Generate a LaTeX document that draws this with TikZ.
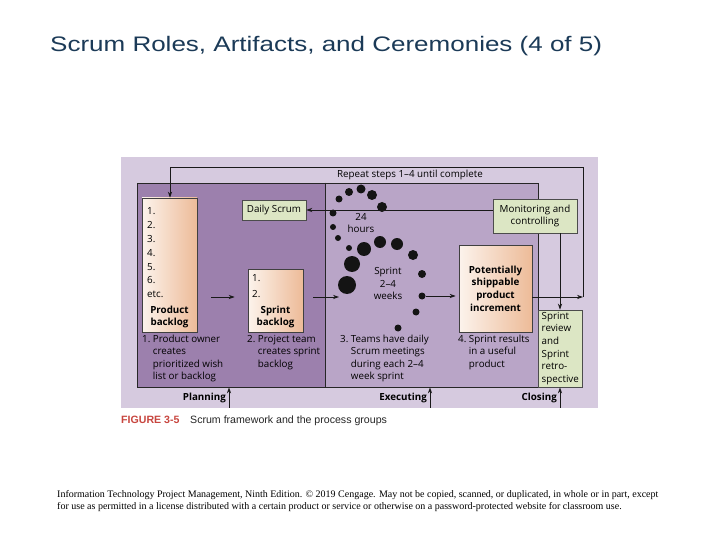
\documentclass[tikz,border=0pt]{standalone}
\usepackage{fontspec}
\setmainfont{Liberation Sans}
\newfontfamily\dfont{Open Sans}
\newfontfamily\serifft{Liberation Serif}
\usetikzlibrary{arrows.meta,calc}
\definecolor{outerlav}{HTML}{D6CADF}
\definecolor{leftzone}{HTML}{9C80AD}
\definecolor{rightzone}{HTML}{B9A5C7}
\definecolor{greenbox}{HTML}{DCE6C4}
\definecolor{peachL}{HTML}{FCF3EC}
\definecolor{peachR}{HTML}{EDBB98}
\definecolor{titleblue}{HTML}{1B3A57}
\definecolor{figred}{HTML}{C8463F}
\tikzset{
  txt/.style={font=\dfont\fontsize{9.8}{12.6}\selectfont, inner sep=0pt, text=black},
  btxt/.style={font=\dfont\bfseries\fontsize{9.8}{12.6}\selectfont, inner sep=0pt, text=black},
  bkbox/.style={draw=black!75, line width=0.6pt, left color=peachL, right color=peachR, inner sep=0pt},
  grbox/.style={draw=black!70, line width=0.6pt, fill=greenbox, inner sep=0pt},
  arr/.style={-{Stealth[length=6pt,width=4.2pt]}, line width=0.9pt, black!90},
  dot/.style={circle, fill=black!92, inner sep=0pt, minimum size=#1},
}
\begin{document}
\begin{tikzpicture}[x=1pt,y=-1pt]
\useasboundingbox (0,0) rectangle (720,540);
\fill[white] (0,0) rectangle (720,540);
% title
\node[anchor=base west, inner sep=0pt, text=titleblue] (title) at (50,52)
  {\scalebox{1.238}[1]{\fontsize{21}{25}\selectfont Scrum Roles, Artifacts, and Ceremonies (4 of 5)}};
% figure background
\node[fill=outerlav, minimum width=477pt, minimum height=251pt, inner sep=0pt] (fig) at (359.5,282.5) {};
% zones
\fill[leftzone] (137,183) rectangle (325,387);
\fill[rightzone] (325,183) rectangle (538,387);
\node[draw=black!85, line width=0.8pt, minimum width=401pt, minimum height=204pt, inner sep=0pt] (inner) at (337.5,285) {};
\draw[black!85, line width=0.8pt] (inner.north -| 325,0) -- (inner.south -| 325,0);
% boxes
\node[bkbox, minimum width=55pt, minimum height=134pt] (pb) at (169.5,265) {};
\node[bkbox, minimum width=55pt, minimum height=63pt] (sb) at (275.5,300.5) {};
\node[bkbox, minimum width=73pt, minimum height=87pt] (psi) at (495.5,288.5) {};
\node[grbox, minimum width=64pt, minimum height=20pt] (ds) at (274,210) {};
\node[grbox, minimum width=84pt, minimum height=34pt] (mc) at (535,216) {};
\node[grbox, minimum width=44pt, minimum height=77pt] (sr) at (560,348.5) {};
% box texts
\foreach \t [count=\i] in {1.,2.,3.,4.,5.,6.,etc.}
  \node[txt, anchor=base west] at (147,201+13.8*\i) {\t};
\node[btxt, align=center] at (169.5,317) {Product\\backlog};
\node[txt, anchor=base west] at (252,281) {1.};
\node[txt, anchor=base west] at (252,297.5) {2.};
\node[btxt, align=center] at (275.5,317) {Sprint\\backlog};
\node[txt] at (ds) {Daily Scrum};
\node[txt, align=center] at (mc) {Monitoring and\\controlling};
\node[btxt, align=center] at (psi) {Potentially\\shippable\\product\\increment};
\node[txt, align=left, anchor=north west] at (541.5,312) {\fontsize{9.8}{12.2}\selectfont Sprint\\review\\and\\Sprint\\retro-\\spective};
% captions
\node[txt, anchor=north west] at (142,333) {\begin{tabular}{@{}l@{\ }l@{}}1.&Product owner\\&creates\\&prioritized wish\\&list or backlog\end{tabular}};
\node[txt, anchor=north west] at (247,333) {\begin{tabular}{@{}l@{\ }l@{}}2.&Project team\\&creates sprint\\&backlog\end{tabular}};
\node[txt, anchor=north west] at (340,333) {\begin{tabular}{@{}l@{\ }l@{}}3.&Teams have daily\\&Scrum meetings\\&during each 2–4\\&week sprint\end{tabular}};
\node[txt, anchor=north west] at (458,333) {\begin{tabular}{@{}l@{\ }l@{}}4.&Sprint results\\&in a useful\\&product\end{tabular}};
\node[txt] at (410,175) {Repeat steps 1–4 until complete};
% dots
\node[dot=7pt] (d1) at (339,199) {};
\node[dot=8pt] (d2) at (349,192) {};
\node[dot=9pt] (d3) at (361,189) {};
\node[dot=10pt] (d4) at (372,195) {};
\node[dot=10pt] (d5) at (382,207) {};
\node[dot=7pt] (d6) at (333,213) {};
\node[dot=6pt] (d7) at (333,227) {};
\node[dot=6pt] (d8) at (338,238) {};
\node[dot=6pt] (d9) at (349,248) {};
\node[dot=14pt] (d10) at (364,249) {};
\node[dot=12pt] (d11) at (380,242) {};
\node[dot=12pt] (d12) at (397,244) {};
\node[dot=10pt] (d13) at (413,255) {};
\node[dot=16pt] (d14) at (352,264) {};
\node[dot=8pt] (d15) at (422,274) {};
\node[dot=18pt] (d16) at (347,285) {};
\node[dot=7pt] (d17) at (422,296) {};
\node[dot=7pt] (d18) at (416,312) {};
\node[dot=7pt] (d19) at (398,328) {};
\node[txt, align=center] at (361,223) {24\\hours};
\node[txt, align=center] at (388,283.5) {Sprint\\2–4\\weeks};
% loop coordinates
\coordinate (ay) at (0,297);
\coordinate (loopR) at (583,297);
\coordinate (loopTR) at (583,167);
\coordinate (loopTL) at (170,167);
\coordinate (sbout) at (339,297);
% connectors
\draw[arr] (psi.east |- loopR) -- (loopR);
\draw[arr] (loopR) -- (loopTR) -- (loopTL) -- (loopTL |- pb.north);
\draw[arr] (mc.west |- ds.east) -- (ds.east);
\draw[arr] (sr.north |- mc.south) -- (sr.north);
\draw[arr, shorten <=14pt, shorten >=13pt] (pb.east |- ay) -- (sb.west |- ay);
\draw[arr, shorten <=10pt] (sb.east |- ay) -- (sbout);
\draw[arr, shorten >=3pt] (d17) -- (psi.west |- d17);
% bottom labels
\node[btxt, anchor=east] (plan) at (226,398) {Planning};
\node[btxt, anchor=east] (exec) at (427,398) {Executing};
\node[btxt, anchor=east] (clos) at (557,398) {Closing};
\coordinate (planA) at (229,407.5);
\coordinate (execA) at (430,407.5);
\coordinate (closA) at (560,407.5);
\draw[arr] (planA) -- (planA |- inner.south);
\draw[arr] (execA) -- (execA |- inner.south);
\draw[arr] (closA) -- (closA |- inner.south);
% figure caption
\node[anchor=base west, inner sep=0pt, text=figred, font=\bfseries\fontsize{10.6}{12}\selectfont] (fignum) at (121,423) {FIGURE 3-5};
\node[anchor=base west, inner sep=0pt, font=\fontsize{10.6}{12}\selectfont, text=black!85] (figcap) at (190,423) {Scrum framework and the process groups};
% footer
\node[anchor=base west, inner sep=0pt, font=\serifft\fontsize{10}{12}\selectfont] (foot) at (57,497) {Information Technology Project Management, Ninth Edition. © 2019 Cengage. May not be copied, scanned, or duplicated, in whole or in part, except};
\node[anchor=base west, inner sep=0pt, font=\serifft\fontsize{10}{12}\selectfont] (foot2) at (57,509) {for use as permitted in a license distributed with a certain product or service or otherwise on a password-protected website for classroom use.};
\end{tikzpicture}
\end{document}
